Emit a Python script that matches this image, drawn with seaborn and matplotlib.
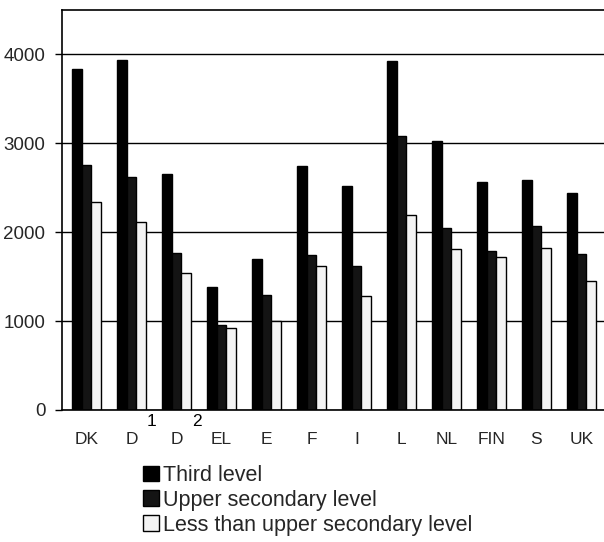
import matplotlib
matplotlib.use("Agg")
import matplotlib.pyplot as plt
import matplotlib.transforms as mtransforms
import seaborn as sns
import pandas as pd

categories = ["DK", "D", "D", "EL", "E", "F", "I", "L", "NL", "FIN", "S", "UK"]
category_ids = ["DK", "D1", "D2", "EL", "E", "F", "I", "L", "NL", "FIN", "S", "UK"]
superscripts = {1: "1", 2: "2"}
series_names = ["Third level", "Upper secondary level", "Less than upper secondary level"]
third_level = [3840, 3940, 2660, 1380, 1700, 2740, 2525, 3930, 3030, 2570, 2590, 2445]
upper_secondary = [2760, 2620, 1770, 955, 1290, 1740, 1620, 3080, 2050, 1785, 2070, 1750]
less_than_upper = [2345, 2115, 1545, 925, 1005, 1620, 1285, 2190, 1815, 1720, 1825, 1450]
yticks = [0, 1000, 2000, 3000, 4000]

rows = []
for s, vals in zip(series_names, [third_level, upper_secondary, less_than_upper]):
    for c, v in zip(category_ids, vals):
        rows.append({"country": c, "series": s, "value": v})
df = pd.DataFrame(rows)

sns.set_theme(style="white")
plt.rcParams["font.family"] = ["Liberation Sans", "DejaVu Sans"]

fig = plt.figure(figsize=(6.04, 5.42), dpi=100)
ax = fig.add_axes([62 / 604, 1 - 410 / 542, 1 - 62 / 604, 400 / 542])

palette = {series_names[0]: "#000000", series_names[1]: "#141414", series_names[2]: "#f3f3f3"}
sns.barplot(data=df, x="country", y="value", hue="series", order=category_ids,
            hue_order=series_names, palette=palette, width=0.65, edgecolor="#000000",
            linewidth=1.0, saturation=1, ax=ax, legend=True, errorbar=None)

ax.set_xlim(-0.544, 11.5)
ax.set_ylim(0, 4500)
ax.set_yticks(yticks)
ax.set_yticklabels([str(t) for t in yticks], fontsize=13.5)
ax.set_xticks(range(len(categories)))
ax.set_xticklabels(categories, fontsize=12.5)
ax.tick_params(axis="x", length=0, pad=16)
ax.tick_params(axis="y", length=5, width=1, color="#000000", pad=7, left=True)
ax.set_xlabel("")
ax.set_ylabel("")
ax.yaxis.grid(True, color="#000000", linewidth=1.0)
ax.set_axisbelow(True)
for side in ["left", "top", "bottom"]:
    ax.spines[side].set_visible(True)
    ax.spines[side].set_color("#000000")
    ax.spines[side].set_linewidth(1.2)
ax.spines["right"].set_visible(False)

trans = mtransforms.blended_transform_factory(ax.transData, fig.transFigure)
for idx, sup in superscripts.items():
    ax.text(idx + 0.45, 1 - 421 / 542, sup, transform=trans, fontsize=12.5,
            ha="center", va="center", color="#000000")

handles, labels = ax.get_legend_handles_labels()
ax.legend_.remove()
fig.legend(handles, labels, loc="upper left", bbox_to_anchor=(143 / 604, 1 - 465 / 542),
           frameon=False, fontsize=15.5, handlelength=0.75, handleheight=0.75,
           handletextpad=0.2, labelspacing=0.18, borderaxespad=0, borderpad=0)

fig.savefig("out.png", dpi=100)
